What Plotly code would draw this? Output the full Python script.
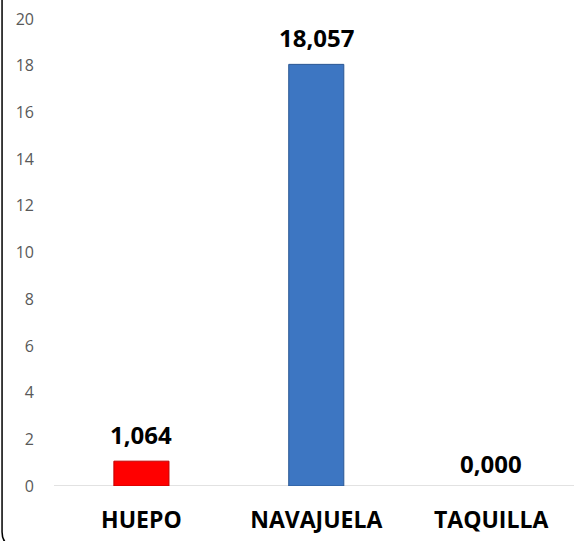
import plotly.graph_objects as go

categories = ["HUEPO", "NAVAJUELA", "TAQUILLA"]
values = [1.064, 18.057, 0.0]
value_labels = ["1,064", "18,057", "0,000"]
bar_colors = ["#FF0000", "#3D76C2", "#3D76C2"]
line_colors = ["#C00000", "#2B5894", "#2B5894"]
y_ticks = list(range(0, 21, 2))

W, H = 574, 541
L, R, T, B = 53.5, 0, 19, 55
pw = W - L - R
ph = H - T - B

fig = go.Figure()
fig.add_trace(go.Bar(
    x=categories, y=values,
    marker=dict(color=bar_colors,
                line=dict(color=line_colors,
                          width=[1 if v > 0 else 0 for v in values])),
    width=0.315,
    hoverinfo="skip",
))

for c, v, t in zip(categories, values, value_labels):
    fig.add_annotation(
        x=c, y=v, text=f"<b>{t}</b>", showarrow=False,
        xref="x", yref="y", yanchor="bottom", yshift=8 if v > 0 else 4,
        font=dict(family="Open Sans", size=24, color="#000000"),
    )

# zero baseline
fig.add_shape(type="line", xref="paper", yref="y", x0=0, x1=1, y0=0, y1=0,
              line=dict(color="#D9D9D9", width=1.5), layer="below")

# chart frame (rounded rectangle, partially visible)
def px_to_paper_x(px):
    return (px - L) / pw

def py_to_paper_y(py):
    return (H - B - py) / ph

x0 = px_to_paper_x(1.5)
xr = px_to_paper_x(600)
ytop = py_to_paper_y(-20)
ybot = py_to_paper_y(546)
rx = 14 / pw
ry = 14 / ph
path = (f"M {x0},{ytop} L {x0},{ybot + ry} "
        f"Q {x0},{ybot} {x0 + rx},{ybot} L {xr},{ybot}")
fig.add_shape(type="path", xref="paper", yref="paper", path=path,
              line=dict(color="#000000", width=1.5))

fig.update_layout(
    width=W, height=H,
    margin=dict(l=L, r=R, t=T, b=B, pad=0, autoexpand=False),
    plot_bgcolor="white", paper_bgcolor="white",
    showlegend=False,
    xaxis=dict(
        range=[-0.5, 2.474], showgrid=False, zeroline=False, showline=False,
        ticks="", tickfont=dict(family="Open Sans", size=23, color="#000000"),
        tickvals=categories, ticktext=[f"<b>{c}</b>" for c in categories],
        ticklabelstandoff=18, automargin=False,
    ),
    yaxis=dict(
        range=[0, 20], tickvals=y_ticks, showgrid=False, zeroline=False,
        showline=False, ticks="", automargin=False,
        tickfont=dict(family="Open Sans", size=16, color="#595959"),
        ticklabelstandoff=19,
    ),
)

fig.write_html(
    "out.html",
    config={"displayModeBar": False},
    post_script="document.body.style.margin='0';document.body.style.overflow='hidden';",
)
